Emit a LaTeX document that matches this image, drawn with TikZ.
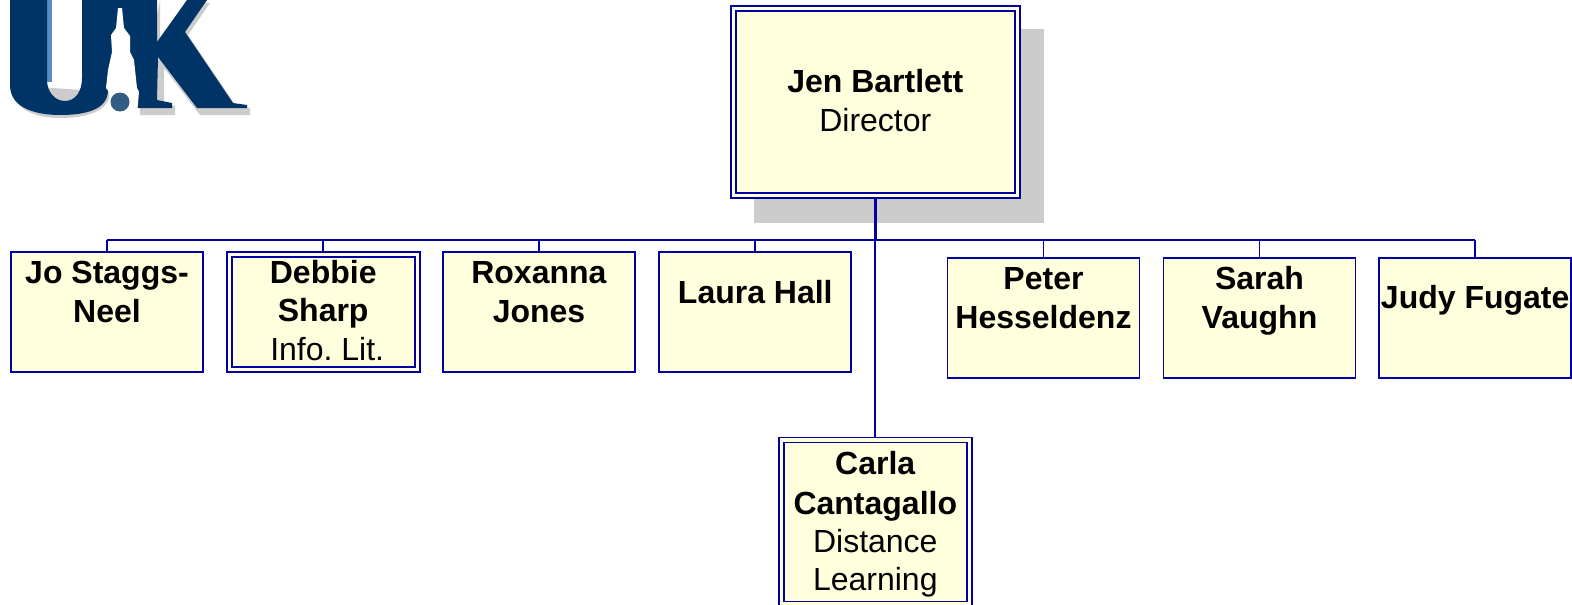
\documentclass[tikz,border=0pt]{standalone}
\usepackage{fontspec}
\setmainfont{Liberation Sans}
\usetikzlibrary{calc}
\definecolor{boxYellow}{RGB}{255,255,221}
\definecolor{boxBlue}{RGB}{0,0,160}
\definecolor{logoNavy}{RGB}{0,51,102}
\definecolor{logoBlue}{RGB}{90,140,195}
\tikzset{
	staffbox/.style={draw=boxBlue, fill=boxYellow, line width=1.8pt, inner sep=0pt, outer sep=0.9pt,
		minimum width=192pt, minimum height=120pt},
	leadbox/.style={staffbox, double=boxYellow, double distance=3.2pt, outer sep=3.4pt},
	link/.style={draw=boxBlue, line width=1.8pt}
}
\newcommand{\drawBoxText}[4]{\parbox[c][#1pt][t]{#2pt}{\centering\frenchspacing\fontsize{32}{38.5}\selectfont\rule{0pt}{#3pt}#4}}
\newcommand{\drawStaffBox}[6]{
	\node[#2] (#1) at (#3) {\drawBoxText{110}{#4}{#5}{#6}};
}
\newcommand{\drawLinkStem}[1]{
	\draw[link] (#1.north) -- (#1.north |- Bus);
}

\begin{document}
\begin{tikzpicture}[x=1pt,y=-1pt]
		\useasboundingbox (0,0) rectangle (1572,605);

		% logo
		\fill[black!20] (160,0) -- (160,45) -- (190,3) -- (210,3) -- (188,35) -- (236,106) -- (250,108) -- (250,115) -- (200,115) -- (164,68) -- (164,103) -- (175,106) -- (175,115) -- (140,115) -- (140,100) -- cycle;
		\fill[black!20] (10,85) .. controls (12,112) and (40,118) .. (60,118) .. controls (85,118) and (110,112) .. (110,92) -- cycle;
		\fill[logoBlue] (47,0) rectangle (52,82);
		\fill[logoNavy] (10,0) -- (47,0) -- (47,80) .. controls (47,92) and (55,101) .. (65,101) .. controls (75,101) and (82,92) .. (82,78) -- (82,0) -- (157,0) -- (157,42) -- (187,0) -- (207,0) -- (185,32) -- (233,103) -- (247,105) -- (247,108) -- (197,108) -- (158,57) -- (157,100) -- (172,103) -- (172,108) -- (137,108) -- (137,90) -- (108,90) .. controls (108,110) and (85,115) .. (60,115) .. controls (40,115) and (10,110) .. (10,85) -- cycle;
		\fill[white] (118,8) -- (122,8) -- (124,28) -- (130,36) -- (130,52) -- (134,60) -- (137,88) -- (139,92) -- (137,115) -- (110,115) -- (109,92) -- (106,88) -- (108,70) -- (112,52) -- (111,35) -- (116,28) -- cycle;
		\fill[logoNavy!80] (120,102) circle (9.5);

		% shadow and boxes
		\fill[black!20] (754,29) rectangle (1044,223);
		\node[leadbox, minimum width=284pt, minimum height=187pt] (Jen) at (875.3,102) {\drawBoxText{177}{270}{79}{\textbf{Jen Bartlett}\\Director}};
		\drawStaffBox{Jo}{staffbox}{107,312}{190}{26.5}{\textbf{Jo Staggs-}\\\textbf{Neel}}
		\drawStaffBox{Debbie}{leadbox, minimum width=188pt, minimum height=115pt}{323.2,312}{184}{26}{\textbf{Debbie}\\\textbf{Sharp}\\\hspace*{8pt}Info. Lit.}
		\drawStaffBox{Roxanna}{staffbox}{539,312}{190}{26.5}{\textbf{Roxanna}\\\textbf{Jones}}
		\drawStaffBox{Laura}{staffbox}{755.3,312}{190}{46.5}{\textbf{Laura Hall}}
		\drawStaffBox{Peter}{staffbox}{1043.5,318}{190}{26.5}{\textbf{Peter}\\\textbf{Hesseldenz}}
		\drawStaffBox{Sarah}{staffbox}{1259.5,318}{190}{26.5}{\textbf{Sarah}\\\textbf{Vaughn}}
		\drawStaffBox{Judy}{staffbox}{1475.2,318}{190}{45}{\textbf{Judy Fugate}}
		\node[leadbox, minimum width=188pt, minimum height=164pt] (Carla) at (875.3,522) {\drawBoxText{160}{184}{32.5}{\textbf{Carla}\\[1.5pt]\textbf{Cantagallo}\\[-1pt]Distance\\[-0.5pt]Learning}};

		% links
		\coordinate (Bus) at (875.3,239.7);
		\draw[link, line width=3pt] (Jen.south) -- (Bus);
		\draw[link] (Bus) -- (Carla.north);
		\draw[link] (Jo.north |- Bus) -- (Judy.north |- Bus);
		\foreach \staff in {Jo,Debbie,Roxanna,Laura,Peter,Sarah,Judy}{
			\drawLinkStem{\staff}
		}
	\end{tikzpicture}
\end{document}
